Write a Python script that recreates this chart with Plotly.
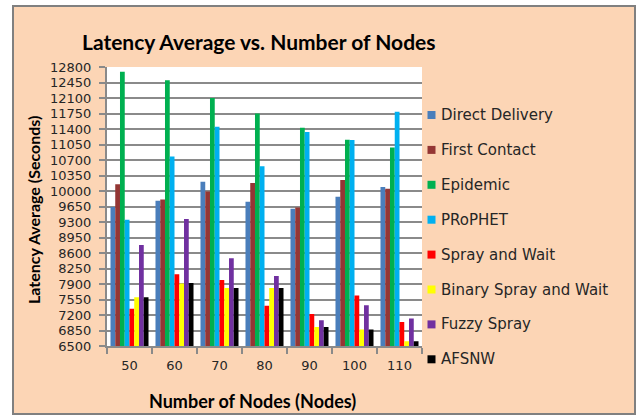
import plotly.graph_objects as go

categories = ["50", "60", "70", "80", "90", "100", "110"]
series_names = ["Direct Delivery", "First Contact", "Epidemic", "PRoPHET",
                "Spray and Wait", "Binary Spray and Wait", "Fuzzy Spray", "AFSNW"]
direct_delivery = [9640, 9780, 10210, 9760, 9600, 9870, 10090]
first_contact = [10150, 9810, 9990, 10180, 9630, 10250, 10050]
epidemic = [12690, 12500, 12100, 11750, 11430, 11160, 10980]
prophet = [9350, 10780, 11450, 10560, 11330, 11150, 11790]
spray_and_wait = [7340, 8120, 7990, 7410, 7220, 7640, 7040]
binary_spray = [7600, 7910, 7810, 7810, 6930, 6870, 6610]
fuzzy_spray = [8780, 9370, 8480, 8080, 7080, 7420, 7120]
afsnw = [7600, 7920, 7810, 7810, 6930, 6870, 6610]
y_ticks = list(range(6500, 12801, 350))

values = [direct_delivery, first_contact, epidemic, prophet,
          spray_and_wait, binary_spray, fuzzy_spray, afsnw]
colors = ["#4A7EBB", "#943634", "#00B050", "#00B0F0",
          "#FF0000", "#FFFF00", "#7030A0", "#000000"]

TFONT = "Lato"
FONT = "DejaVu Sans"
fig = go.Figure()
for name, vals, col in zip(series_names, values, colors):
    fig.add_trace(go.Bar(x=categories, y=vals, name=name, marker_color=col,
                         marker_line_width=0, showlegend=False))

W, H = 636, 415
L, R, T, B = 107, 214, 67, 69
pw, ph = W - L - R, H - T - B

def px(x):
    return (x - L) / pw

def py(y):
    return (H - B - y) / ph

grid = "#8A8A8A"
shapes = [
    dict(type="rect", xref="paper", yref="paper", layer="below",
         x0=px(13), x1=px(635), y0=py(414), y1=py(6),
         fillcolor="#FCD5B5", line=dict(color="#808080", width=2)),
    dict(type="rect", xref="paper", yref="paper", layer="below",
         x0=0, x1=1, y0=0, y1=1, fillcolor="white", line=dict(width=0)),
]
annotations = [
    dict(text="<b>Latency Average vs. Number of Nodes</b>", xref="paper", yref="paper",
         x=px(259), y=py(42), xanchor="center", yanchor="middle", showarrow=False,
         font=dict(size=21, family=TFONT, color="black")),
    dict(text="<b>Number of Nodes (Nodes)</b>", xref="paper", yref="paper",
         x=px(252), y=py(401), xanchor="center", yanchor="middle", showarrow=False,
         font=dict(size=18, family=TFONT, color="black")),
    dict(text="<b>Latency Average (Seconds)</b>", xref="paper", yref="paper",
         x=px(33), y=py(210), xanchor="center", yanchor="middle", showarrow=False,
         textangle=-90, font=dict(size=16, family=TFONT, color="black")),
]
# legend built from series names and colours
leg_top, leg_step = 115, 34.9
for i, (name, col) in enumerate(zip(series_names, colors)):
    cy = leg_top + i * leg_step
    shapes.append(dict(type="rect", xref="paper", yref="paper", layer="above",
                       x0=px(427.5), x1=px(435.5), y0=py(cy + 4), y1=py(cy - 4),
                       fillcolor=col, line=dict(width=0)))
    annotations.append(dict(text=name, xref="paper", yref="paper", x=px(439), y=py(cy),
                            xanchor="left", yanchor="middle", showarrow=False,
                            font=dict(size=15, family=FONT, color="#262626")))

fig.update_layout(
    width=W, height=H,
    margin=dict(l=L, r=R, t=T, b=B, pad=0),
    paper_bgcolor="white", plot_bgcolor="white",
    barmode="group", bargap=0.155, bargroupgap=0,
    font=dict(family=FONT, color="#262626"),
    showlegend=False,
    shapes=shapes, annotations=annotations,
)
fig.update_xaxes(type="category", showgrid=False, showline=True, linecolor=grid, linewidth=2,
                 ticks="outside", tickson="boundaries", ticklen=6, tickcolor=grid, tickwidth=2,
                 tickfont=dict(size=13, family=FONT, color="#262626"), ticklabelstandoff=6)
fig.update_yaxes(range=[6500, 12800], tickvals=y_ticks, tickformat="d", showgrid=True,
                 gridcolor=grid, gridwidth=2,
                 showline=True, linecolor=grid, linewidth=2, zeroline=False,
                 ticks="outside", ticklen=6, tickcolor=grid, tickwidth=2,
                 tickfont=dict(size=13, family=FONT, color="#262626"), ticklabelstandoff=5)

fig.write_html("out.html", config={"displayModeBar": False},
               post_script="document.body.style.margin='0';")
